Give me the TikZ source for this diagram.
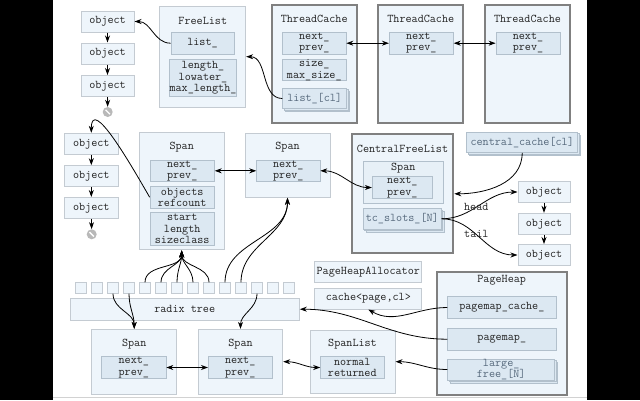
\documentclass[tikz,border=0pt]{standalone}
\usepackage{fontspec}
\usepackage{tikz}
\definecolor{boxfill}{HTML}{EEF5FB}
\definecolor{boxline}{HTML}{C4CBD2}
\definecolor{slotfill}{HTML}{DCE8F2}
\definecolor{slotline}{HTML}{B2C0CC}
\definecolor{holdline}{HTML}{808080}
\definecolor{ink}{HTML}{222222}
\definecolor{arrink}{HTML}{56697C}
\usetikzlibrary{arrows.meta,shadows}
\tikzset{base/.style={
    inner sep=0pt,
    align=center,
    text=ink,
    font=\fontsize{11.8}{11.5}\selectfont\ttfamily},
  wh/.style 2 args={minimum width=#1pt, minimum height=#2pt},
  box/.style={base, draw=boxline, fill=boxfill, line width=1pt},
  holder/.style={base, draw=holdline, fill=boxfill, line width=2pt},
  slot/.style={base, draw=slotline, fill=slotfill, line width=0.8pt},
  slots/.style={slot, text=arrink,
    double copy shadow={shadow xshift=1.5pt, shadow yshift=-1.5pt}},
  cell/.style={draw=boxline, fill=boxfill, line width=0.8pt,
    minimum size=10.5pt, inner sep=0pt},
  nullsym/.style={circle, fill=gray!55, minimum size=10pt, inner sep=0pt,
    path picture={\draw[white, line width=1.3pt]
      ([shift={(2.8,-2.8)}]path picture bounding box.north west) --
      ([shift={(-2.8,2.8)}]path picture bounding box.south east);}},
  link/.style={-{Stealth[length=7pt,width=5pt]}, line width=0.8pt},
  dlink/.style={{Stealth[length=7pt,width=5pt]}-{Stealth[length=7pt,width=5pt]}, line width=0.8pt}}

\begin{document}
\begin{tikzpicture}[x=1pt, y=1pt]

\useasboundingbox (0,0) rectangle (640,-400);
\fill[black] (0,0) rectangle (640,-400);
\fill[white] (53,0) rectangle (587,-400);
\draw[gray!35] (53,-397) -- (587,-397);

% free objects, first list
\node[box, wh={53}{21}] (obj1) at (107.5,-21.5) {object};
\node[box, wh={53}{21}] (obj2) at (107.5,-53.5) {object};
\node[box, wh={53}{21}] (obj3) at (107.5,-86) {object};
\node[nullsym] (null1) at (107.7,-112) {};

% FreeList
\node[box, wh={85.7}{101.3}] (freelist) at (202.8,-56.7) {};
\node[base] (fltitle) at (202.8,-20.7) {FreeList};
\node[slot, wh={63}{21.7}] (fllist) at (202.5,-43.2) {list\_};
\node[slot, wh={64}{37.4}] (fllen) at (203,-78) {length\_\\lowater\_\\max\_length\_};

% ThreadCaches
\node[holder, wh={85}{118.3}] (tc1) at (314.2,-64.2) {};
\node[base] (tc1title) at (314.2,-19.3) {ThreadCache};
\node[slot, wh={63.3}{21.7}] (tc1next) at (314.3,-43.2) {next\_\\prev\_};
\node[slot, wh={63.3}{21.4}] (tc1size) at (314.3,-70) {size\_\\max\_size\_};
\node[slots, wh={64}{20.5}] (tc1list) at (314.7,-98.5) {list\_[cl]};

\node[holder, wh={85}{118.3}] (tc2) at (420.8,-64.2) {};
\node[base] (tc2title) at (420.8,-19.3) {ThreadCache};
\node[slot, wh={64}{21.7}] (tc2next) at (421.3,-43.2) {next\_\\prev\_};

\node[holder, wh={85}{118.3}] (tc3) at (527.5,-64.2) {};
\node[base] (tc3title) at (527.5,-19.3) {ThreadCache};
\node[slot, wh={64}{21.7}] (tc3next) at (528,-43.2) {next\_\\prev\_};

% free objects, second list
\node[box, wh={54}{21}] (obj4) at (91.3,-143.8) {object};
\node[box, wh={54}{21}] (obj5) at (91.3,-176.2) {object};
\node[box, wh={54}{21}] (obj6) at (91.3,-208) {object};
\node[nullsym] (null2) at (91.7,-234.3) {};

% Spans
\node[box, wh={85.3}{117.3}] (span1) at (181.7,-191.3) {};
\node[base] (s1title) at (181.7,-146.7) {Span};
\node[slot, wh={64.3}{21.7}] (s1next) at (182.2,-170.8) {next\_\\prev\_};
\node[slot, wh={64.3}{22.3}] (s1obj) at (182.2,-197.2) {objects\\refcount};
\node[slot, wh={64.3}{32.3}] (s1start) at (182.2,-228.8) {start\\length\\sizeclass};

\node[box, wh={85}{64}] (span2) at (287.5,-165.3) {};
\node[base] (s2title) at (287.5,-146.7) {Span};
\node[slot, wh={63.3}{21.7}] (s2next) at (288.3,-170.8) {next\_\\prev\_};

% CentralFreeList
\node[holder, wh={101.6}{119}] (cfl) at (402.5,-193.8) {};
\node[base] (cfltitle) at (402.5,-149) {CentralFreeList};
\node[slot,
  fill=boxfill!60!slotfill,
  wh={80}{41.6}] (cflspan) at (403.3,-182.5) {};
\node[base] (cflspantitle) at (403.3,-167.7) {Span};
\node[slot, wh={60}{21.6}] (cflnext) at (402.3,-187.5) {next\_\\prev\_};
\node[slots, wh={78}{20.5}] (tcslots) at (402.3,-218.8) {tc\_slots\_[N]};

\node[slots, wh={111}{20.5}] (ccache) at (522.2,-142.2) {central\_cache[cl]};

\node[box, wh={52}{21}] (obj7) at (544,-192) {object};
\node[box, wh={52}{21}] (obj8) at (544,-223.8) {object};
\node[box, wh={52}{21}] (obj9) at (544,-255) {object};

% radix tree
\foreach \i in {0,...,13}
  \node[cell] (c\i) at ({81+16*\i},-288) {};
\node[box, wh={229.3}{21.7}] (radix) at (184.7,-309.2) {radix tree};

\node[box, wh={85}{64.7}] (span3) at (134.2,-361.7) {};
\node[base] (s3title) at (134.2,-344) {Span};
\node[slot, wh={64.3}{21.7}] (s3next) at (133.8,-367.5) {next\_\\prev\_};

\node[box, wh={84.4}{64.7}] (span4) at (240.5,-361.7) {};
\node[base] (s4title) at (240.5,-344) {Span};
\node[slot, wh={63.7}{21.7}] (s4next) at (240.2,-367.5) {next\_\\prev\_};

% PageHeap side
\node[box, wh={106.7}{20.6}] (pha) at (368.3,-272) {PageHeapAllocator};
\node[box, wh={106.7}{20.6}] (cachepc) at (368.3,-298.7) {cache<page,cl>};

\node[box, wh={85}{63.3}] (spanlist) at (352.5,-361.7) {};
\node[base] (sltitle) at (352.5,-344.3) {SpanList};
\node[slot, wh={63.3}{21.7}] (slnormal) at (352.3,-367.5) {normal\\returned};

\node[holder, wh={130}{123.3}] (pageheap) at (501.7,-333.3) {};
\node[base] (phtitle) at (501.7,-280) {PageHeap};
\node[slot, wh={108.3}{21.7}] (phcache) at (501.8,-307.5) {pagemap\_cache\_};
\node[slot, wh={108.3}{21.7}] (phmap) at (501.8,-339.2) {pagemap\_};
\node[slots, wh={107}{20.5}] (phlarge) at (501.2,-369.5) {large\_\\free\_[N]};

% connectors
\draw[link] (obj1) -- (obj2);
\draw[link] (obj2) -- (obj3);
\draw[link] (obj3) -- (null1);
\draw[link] (obj4) -- (obj5);
\draw[link] (obj5) -- (obj6);
\draw[link] (obj6) -- (null2);
\draw[link] (obj7) -- (obj8);
\draw[link] (obj8) -- (obj9);

\draw[link] (fllist.west) to[out=180,in=0] (obj1.east);
\draw[link] (tc1list.west) to[out=180,in=0] (freelist.east);
\draw[dlink] (tc1next.east) -- (tc2next.west);
\draw[dlink] (tc2next.east) -- (tc3next.west);

\draw[link] (s1obj.west) to[out=120,in=90,looseness=1.1] (obj4.north);
\draw[dlink] (s1next.east) -- (s2next.west);
\draw[dlink] (s2next.east) to[out=0,in=180] (cflnext.west);
\draw[link] (ccache.south) to[out=-90,in=0] (cfl.east);
\draw[link] (tcslots.east) to[out=0,in=180] node[base, pos=0.45] {head} (obj7.west);
\draw[link] (tcslots.east) to[out=0,in=180] node[base, pos=0.45] {tail} (obj9.west);

\foreach \i in {4,...,8}
  \draw[link] (c\i.north) to[out=90,in=-90] (span1.south);
\foreach \i in {9,10}
  \draw[link] (c\i.north) to[out=90,in=-90] (span2.south);
\foreach \i in {2,3}
  \draw[link] (c\i.south) to[out=-90,in=90] (span3.north);
\draw[link] (c11.south) to[out=-90,in=90] (span4.north);

\draw[dlink] (s3next.east) -- (s4next.west);
\draw[dlink] (span4.east) to[out=0,in=180] (slnormal.west);
\draw[link] (phcache.west) to[out=180,in=-30] (cachepc.south);
\draw[link] (phmap.west) to[out=180,in=0] (radix.east);
\draw[link] (phlarge.west) to[out=180,in=0] (spanlist.east);

\end{tikzpicture}
\end{document}
